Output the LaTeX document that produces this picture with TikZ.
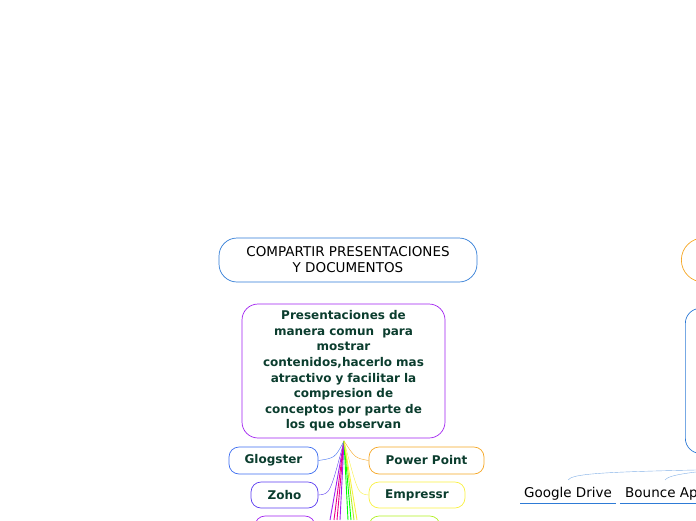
\documentclass[tikz,border=0pt]{standalone}
\usepackage{fontspec}
\setmainfont{DejaVu Sans}
\definecolor{tx}{HTML}{0B3D2E}
\definecolor{bl}{HTML}{2E7BD6}
\definecolor{pu}{HTML}{A020F0}
\definecolor{or}{HTML}{F5A623}
\definecolor{ye}{HTML}{F8F040}
\definecolor{gl}{HTML}{3C6DF0}
\definecolor{zo}{HTML}{5A3CF0}
\definecolor{li}{HTML}{B0F020}
\begin{document}
\begin{tikzpicture}[x=1pt,y=-1pt,
  box/.style={draw,rounded corners=12pt,line width=0.7pt,align=center},
  leaf/.style={box,rounded corners=10pt,font=\bfseries\fontsize{12}{14}\selectfont,text=tx,inner sep=0pt}]
\useasboundingbox (0,0) rectangle (696,520);
\node[box,draw=bl,rounded corners=18pt,minimum width=258,minimum height=44,font=\fontsize{13.5}{16}\selectfont,inner sep=0pt] (top) at (348,260) {COMPARTIR PRESENTACIONES\\Y DOCUMENTOS};
\node[box,draw=pu,rounded corners=16pt,minimum width=203,minimum height=134,text width=195,font=\bfseries\fontsize{12}{15.6}\selectfont,text=tx,inner sep=0pt] (main) at (343.5,371) {Presentaciones de\\manera comun\ \ para\\mostrar\\contenidos,hacerlo mas\\atractivo y facilitar la\\compresion de\\conceptos por parte de\\los que observan};
\coordinate (hub) at (344,441);
\node[leaf,draw=gl,minimum width=89,minimum height=27] (glog) at (273.5,460.5) {Glogster};
\node[leaf,draw=zo,minimum width=67,minimum height=26] (zoho) at (284.5,495) {Zoho};
\node[leaf,draw=pu,minimum width=60,minimum height=26] (l3) at (285,529) {};
\node[leaf,draw=or,minimum width=115,minimum height=27] (pp) at (426.5,460.5) {Power Point};
\node[leaf,draw=ye,minimum width=96,minimum height=26] (emp) at (417,495) {Empressr};
\node[leaf,draw=li,minimum width=71,minimum height=26] (r3) at (404.5,529) {};
\draw[gl] (hub) .. controls (335,458) .. (glog.east);
\draw[zo] (hub) .. controls (330,494) .. (zoho.east);
\draw[or] (hub) .. controls (355,458) .. (pp.west);
\draw[ye] (hub) .. controls (358,494) .. (emp.west);
\foreach \c/\xx in {pu/330,magenta/334,magenta/337,pu/340,green/348,green/351,li/354,ye/357}
  \draw[\c,line width=0.9pt] (hub) -- (\xx,520);
% right part
\node[box,draw=or,rounded corners=22pt,minimum width=120,minimum height=44,anchor=west] (orb) at (681,260) {};
\node[box,draw=bl,rounded corners=15pt,minimum width=120,minimum height=145,anchor=north west] (blb) at (685,308) {};
\node[font=\fontsize{13.5}{16}\selectfont,anchor=base] (gd) at (568,497) {Google Drive};
\node[font=\fontsize{13.5}{16}\selectfont,anchor=base west,inner sep=0pt] (ba) at (625,497) {Bounce Ap};
\draw[bl,line width=0.9pt] (520,503) -- (616,503);
\draw[bl,line width=0.9pt] (620,503) -- (696,503);
\draw[bl!60,line width=0.4pt] (696,470) .. controls (600,472) and (572,474) .. (568,480);
\draw[bl!60,line width=0.4pt] (696,472) .. controls (680,474) and (668,476) .. (665,480);
\end{tikzpicture}
\end{document}
